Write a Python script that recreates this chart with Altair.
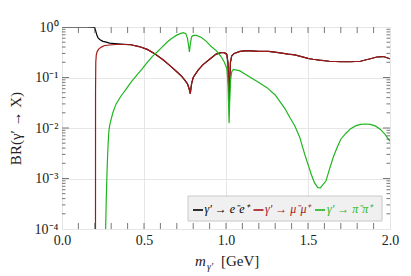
import altair as alt
import pandas as pd

# ---------------- data ----------------
ee_x = [0.0, 0.05, 0.10, 0.15, 0.19, 0.195, 0.20, 0.205, 0.21, 0.215, 0.22, 0.232, 0.25, 0.27,
        0.29, 0.32, 0.36, 0.42, 0.47, 0.52, 0.57, 0.62, 0.66, 0.70, 0.73, 0.75, 0.765,
        0.775, 0.782, 0.79, 0.80, 0.83, 0.86, 0.90, 0.94, 0.97, 0.99, 1.005, 1.012,
        1.017, 1.019, 1.022, 1.027, 1.035, 1.05, 1.085, 1.13, 1.20, 1.26, 1.32, 1.38,
        1.42, 1.46, 1.50, 1.53, 1.57, 1.63, 1.70, 1.76, 1.82, 1.88, 1.92, 1.96, 2.00]
ee_y = [1.0, 1.0, 1.0, 1.0, 0.998, 0.99, 0.95, 0.85, 0.74, 0.66, 0.61, 0.56, 0.52, 0.50,
        0.48, 0.47, 0.46, 0.445, 0.41, 0.36, 0.29, 0.22, 0.17, 0.13, 0.105, 0.088, 0.075,
        0.06, 0.048, 0.075, 0.10, 0.14, 0.18, 0.23, 0.29, 0.31, 0.31, 0.29, 0.20,
        0.05, 0.03, 0.07, 0.20, 0.27, 0.30, 0.33, 0.34, 0.33, 0.33, 0.31, 0.29,
        0.28, 0.26, 0.24, 0.23, 0.22, 0.21, 0.205, 0.205, 0.21, 0.235, 0.255, 0.26, 0.235]

mumu_x = [0.204, 0.2045, 0.206, 0.209, 0.215, 0.225, 0.24, 0.26, 0.29, 0.33, 0.38, 0.42,
          0.47, 0.52, 0.57, 0.62, 0.66, 0.70, 0.73, 0.75, 0.765, 0.775, 0.782, 0.79, 0.80,
          0.83, 0.86, 0.90, 0.94, 0.97, 0.99, 1.005, 1.012, 1.017, 1.019, 1.022, 1.027,
          1.035, 1.05, 1.085, 1.13, 1.20, 1.26, 1.32, 1.38, 1.42, 1.46, 1.50, 1.53, 1.57,
          1.63, 1.70, 1.76, 1.82, 1.88, 1.92, 1.96, 2.00]
mumu_y = [1e-6, 0.05, 0.20, 0.28, 0.33, 0.37, 0.40, 0.43, 0.44, 0.45, 0.45, 0.445,
          0.41, 0.36, 0.29, 0.22, 0.17, 0.13, 0.105, 0.088, 0.075, 0.06, 0.048, 0.075, 0.10,
          0.14, 0.18, 0.23, 0.29, 0.31, 0.31, 0.28, 0.19, 0.05, 0.028, 0.07, 0.20,
          0.27, 0.30, 0.33, 0.34, 0.33, 0.33, 0.31, 0.29, 0.28, 0.26, 0.24, 0.23, 0.22,
          0.21, 0.205, 0.205, 0.21, 0.235, 0.255, 0.26, 0.235]

pipi_x = [0.262, 0.266, 0.27, 0.275, 0.28, 0.285, 0.29, 0.30, 0.31, 0.33, 0.36, 0.39,
          0.42, 0.455, 0.49, 0.52, 0.55, 0.58, 0.61, 0.64, 0.67, 0.70, 0.72, 0.74, 0.755,
          0.765, 0.772, 0.777, 0.782, 0.79, 0.80, 0.82, 0.85, 0.88, 0.91, 0.94, 0.97, 0.99,
          1.005, 1.012, 1.017, 1.019, 1.022, 1.028, 1.035, 1.045, 1.065, 1.085, 1.12, 1.15,
          1.20, 1.25, 1.30, 1.33, 1.36, 1.39, 1.42, 1.45, 1.48, 1.50, 1.52, 1.54, 1.56,
          1.575, 1.59, 1.61, 1.63, 1.655, 1.68, 1.70, 1.73, 1.76, 1.79, 1.82, 1.85, 1.88,
          1.91, 1.94, 1.97, 1.99, 2.00]
pipi_y = [1e-6, 1e-4, 4e-4, 1.5e-3, 4e-3, 8e-3, 0.011, 0.015, 0.02, 0.03, 0.043, 0.058,
          0.08, 0.11, 0.15, 0.20, 0.26, 0.32, 0.40, 0.50, 0.60, 0.69, 0.74, 0.77, 0.74,
          0.60, 0.42, 0.32, 0.45, 0.64, 0.68, 0.68, 0.62, 0.52, 0.41, 0.34, 0.26, 0.20,
          0.15, 0.08, 0.02, 0.0125, 0.03, 0.09, 0.13, 0.145, 0.14, 0.135, 0.115, 0.10,
          0.08, 0.063, 0.045, 0.033, 0.024, 0.016, 0.011, 0.0065, 0.003, 0.0019, 0.0012, 0.00082, 0.00066,
          0.00065, 0.00075, 0.0009, 0.0015, 0.0027, 0.0043, 0.006, 0.0078, 0.0097, 0.011, 0.0118, 0.012, 0.0118,
          0.011, 0.0095, 0.0075, 0.006, 0.0055]

x_tick_values = [round(0.1 * i, 1) for i in range(1, 20)]
x_label_values = [0.0, 0.5, 1.0, 1.5, 2.0]
y_major_values = [1e-4, 1e-3, 1e-2, 1e-1, 1.0]
y_minor_values = [m * 10.0 ** k for k in range(-4, 0) for m in range(2, 10)]

legend_labels = ["γ′ → e⁻e⁺", "γ′ → μ⁻μ⁺", "γ′ → π⁻π⁺"]
colors = ["#000000", "#a51616", "#1fb51f"]

# ---------------- layout ----------------
W, H = 328, 202
FONT = "Liberation Serif"

xscale = alt.Scale(domain=[0, 2], nice=False, zero=False)
yscale = alt.Scale(type="log", domain=[1e-4, 1], nice=False)

label_expr = ("datum.value > 0.5 ? '10⁰' : datum.value > 0.05 ? '10⁻¹' : "
              "datum.value > 0.005 ? '10⁻²' : datum.value > 0.0005 ? '10⁻³' : '10⁻⁴'")

def X():
    return alt.X("x:Q", scale=xscale,
                 axis=alt.Axis(values=x_label_values, format=".1f", title=None,
                               ticks=False, domain=False, grid=True, gridColor="#e6e6e6",
                               labelFont=FONT, labelFontSize=14, labelPadding=4,
                               labelFlush=False, labelOverlap=False,
                               labelColor="#222"))

def Y():
    return alt.Y("y:Q", scale=yscale,
                 axis=alt.Axis(values=y_major_values, labelExpr=label_expr,
                               title="BR(γ′ → X)", titleFont=FONT, titleFontSize=15,
                               titleFontWeight="normal", titleColor="#222",
                               titleX=-39, titleY=H / 2,
                               ticks=False, domain=False, grid=True, gridColor="#e6e6e6",
                               labelFont=FONT, labelFontSize=14, labelPadding=4,
                               labelFlush=False, labelOverlap=False,
                               labelColor="#222"))

def line_layer(xs, ys, color):
    df = pd.DataFrame({"x": xs, "y": ys})
    return alt.Chart(df).mark_line(color=color, strokeWidth=1.2, clip=True).encode(x=X(), y=Y())

black = line_layer(ee_x, ee_y, colors[0])
red = line_layer(mumu_x, mumu_y, colors[1])
green = line_layer(pipi_x, pipi_y, colors[2])

tick_color = "#555555"
xt = pd.DataFrame({"x": x_tick_values})
xt_bottom = alt.Chart(xt).mark_rule(color=tick_color, strokeWidth=0.8).encode(
    x=X(), y=alt.value(H), y2=alt.value(H - 6))
xt_top = alt.Chart(xt).mark_rule(color=tick_color, strokeWidth=0.8).encode(
    x=X(), y=alt.value(0), y2=alt.value(6))

ymaj = pd.DataFrame({"y": y_major_values[1:-1]})
ymin = pd.DataFrame({"y": y_minor_values})
yt_l_maj = alt.Chart(ymaj).mark_rule(color=tick_color, strokeWidth=0.8).encode(
    y=Y(), x=alt.value(0), x2=alt.value(7))
yt_r_maj = alt.Chart(ymaj).mark_rule(color=tick_color, strokeWidth=0.8).encode(
    y=Y(), x=alt.value(W), x2=alt.value(W - 7))
yt_l_min = alt.Chart(ymin).mark_rule(color=tick_color, strokeWidth=0.8).encode(
    y=Y(), x=alt.value(0), x2=alt.value(3.5))
yt_r_min = alt.Chart(ymin).mark_rule(color=tick_color, strokeWidth=0.8).encode(
    y=Y(), x=alt.value(W), x2=alt.value(W - 3.5))

one = pd.DataFrame({"k": [0]})

# legend box
leg_box = alt.Chart(one).mark_rect(fill="#f0f0f0", stroke="#c8c8c8", strokeWidth=1).encode(
    x=alt.value(126), x2=alt.value(320), y=alt.value(169), y2=alt.value(194))
leg_layers = [leg_box]
dash_x = [131, 191.5, 253]
text_x = [142.5, 203, 265]
for i in range(3):
    leg_layers.append(alt.Chart(one).mark_rule(color=colors[i], strokeWidth=1.6).encode(
        x=alt.value(dash_x[i]), x2=alt.value(dash_x[i] + 10), y=alt.value(183)))
    leg_layers.append(alt.Chart(one).mark_text(
        align="left", baseline="middle", font=FONT, fontSize=12, fontStyle="italic",
        color=colors[i]).encode(
        x=alt.value(text_x[i]), y=alt.value(182), text=alt.value(legend_labels[i])))

# x-axis title  m_{γ'} [GeV]
xt_m = alt.Chart(one).mark_text(align="left", baseline="alphabetic", font=FONT, fontSize=15,
                                fontStyle="italic", color="#222").encode(
    x=alt.value(133), y=alt.value(239), text=alt.value("m"))
xt_sub = alt.Chart(one).mark_text(align="left", baseline="alphabetic", font=FONT, fontSize=10,
                                  fontStyle="italic", color="#222").encode(
    x=alt.value(145), y=alt.value(243), text=alt.value("γ′"))
xt_gev = alt.Chart(one).mark_text(align="left", baseline="alphabetic", font=FONT, fontSize=15,
                                  color="#222").encode(
    x=alt.value(159), y=alt.value(239), text=alt.value("[GeV]"))

chart = alt.layer(
    black, red, green,
    xt_bottom, xt_top, yt_l_maj, yt_r_maj, yt_l_min, yt_r_min,
    *leg_layers, xt_m, xt_sub, xt_gev
).properties(
    width=W, height=H,
    autosize=alt.AutoSizeParams(type="none"),
    padding={"left": 54, "top": 19, "right": 12, "bottom": 45},
).configure_view(stroke="#333333", strokeWidth=1.2).configure(background="white")

chart.save("out.html", embed_options={"renderer": "svg", "actions": False})
